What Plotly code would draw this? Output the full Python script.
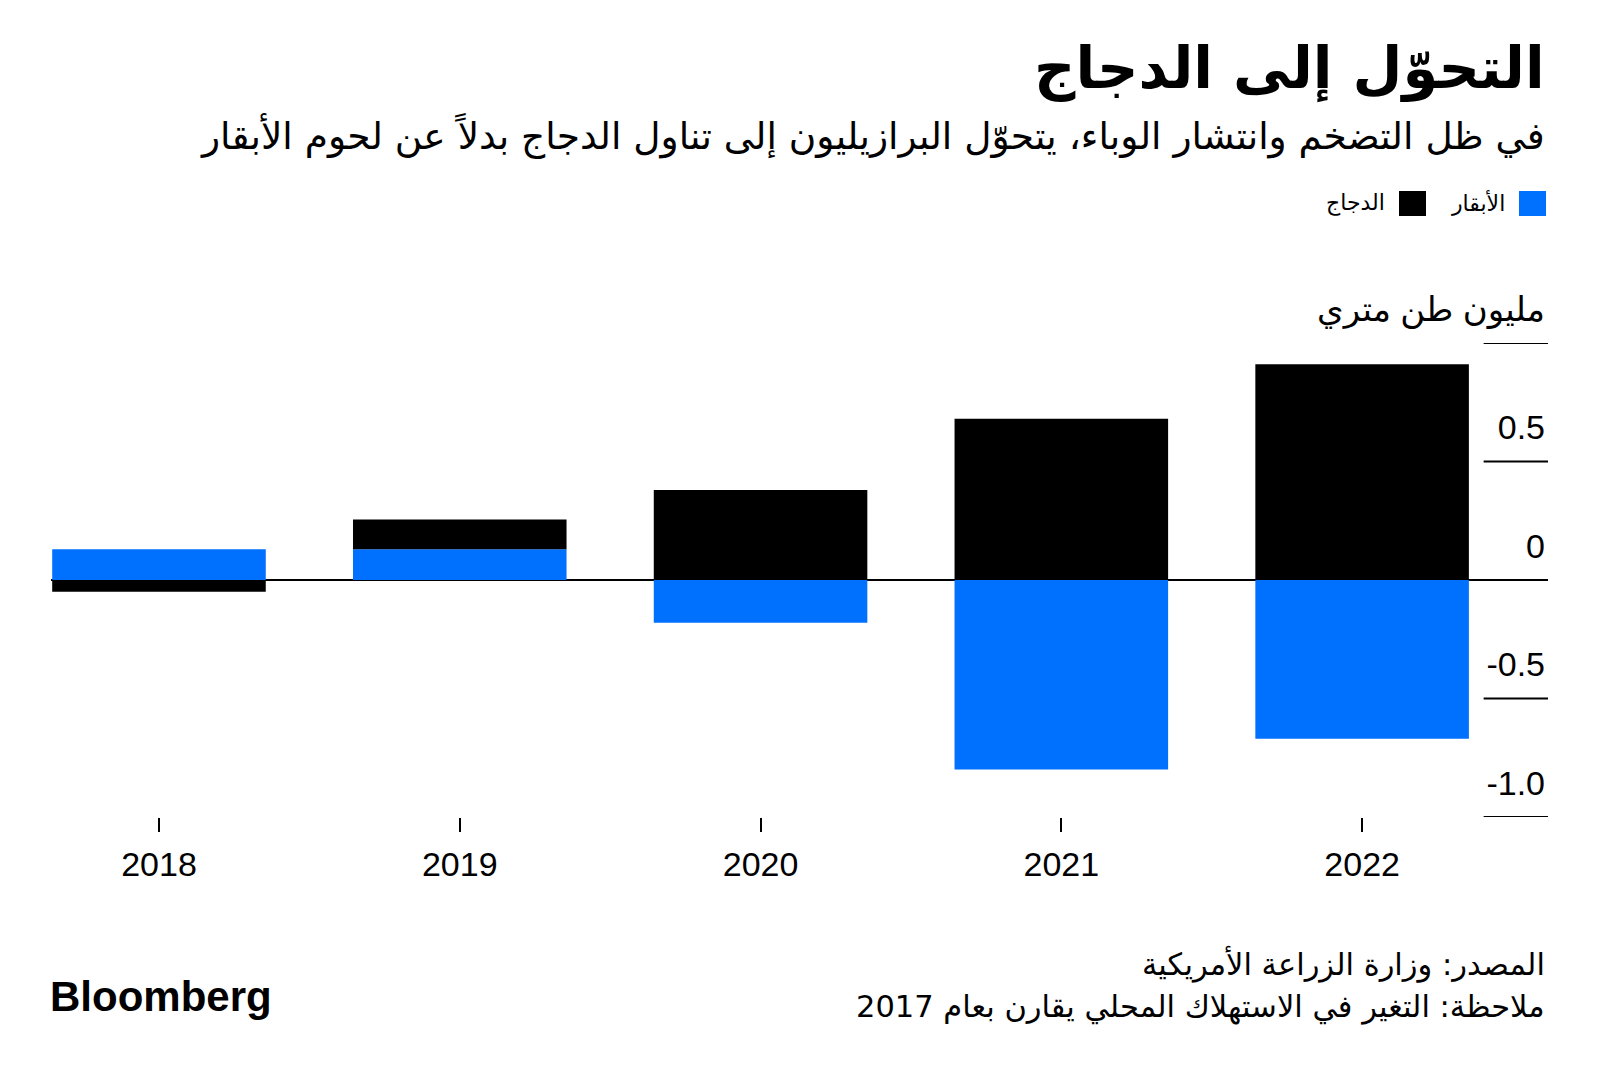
import plotly.graph_objects as go

# ---- data ----
years = ["2018", "2019", "2020", "2021", "2022"]
beef = [0.13, 0.13, -0.18, -0.80, -0.67]
chicken = [-0.05, 0.125, 0.38, 0.68, 0.91]
series_names = ["الأبقار", "الدجاج"]
series_colors = ["#0070FF", "#000000"]
y_tickvals = [-1.0, -0.5, 0, 0.5, 1.0]
y_ticktext = ["-1.0", "-0.5", "0", "0.5", "مليون طن متري"]

title = "التحوّل إلى الدجاج"
subtitle = "في ظل التضخم وانتشار الوباء، يتحوّل البرازيليون إلى تناول الدجاج بدلاً عن لحوم الأبقار"
source = "المصدر: وزارة الزراعة الأمريكية"
note = "ملاحظة: التغير في الاستهلاك المحلي يقارن بعام 2017"

AR_FONT = "DejaVu Sans, Noto Sans, sans-serif"
LAT_FONT = "Liberation Sans, Arial, DejaVu Sans, sans-serif"

fig = go.Figure()
for name, vals, col in zip(series_names, [beef, chicken], series_colors):
    fig.add_trace(go.Bar(x=years, y=vals, name=name, marker=dict(color=col, line=dict(width=0)),
                         showlegend=False))

W, H = 1600, 1074
OFF = 8  # page body margin
L, R, T, B = 43, 60, 335, 265

fig.update_layout(
    width=W, height=H,
    margin=dict(l=L, r=R, t=T, b=B),
    barmode="relative",
    bargap=0.29,
    plot_bgcolor="white",
    paper_bgcolor="white",
    font=dict(family=LAT_FONT, color="#000000"),
)
fig.update_xaxes(
    type="category",
    range=[-0.359, 4.618],
    showgrid=False, showline=False, zeroline=False,
    ticks="outside", ticklen=14, tickwidth=2, tickcolor="#000000",
    ticklabelstandoff=3,
    tickfont=dict(size=34, family=LAT_FONT, color="#000000"),
)
fig.update_yaxes(
    range=[-1.0, 1.0],
    side="right",
    tickvals=y_tickvals, ticktext=y_ticktext,
    ticklabelposition="inside",
    ticklabelshift=-34,
    ticklabeloverflow="allow",
    ticks="",
    showgrid=False, showline=False,
    zeroline=True, zerolinecolor="#000000", zerolinewidth=2,
    tickfont=dict(size=34, family=LAT_FONT, color="#000000"),
)

# short gridlines at right (derived from tick values)
for v in y_tickvals:
    if v == 0:
        continue
    fig.add_shape(type="line", xref="paper", yref="y", x0=0.957, x1=1.0, y0=v, y1=v,
                  line=dict(color="#000000", width=2), layer="above")

plot_h = H - T - B
plot_w = W - L - R


def py(ypx):
    return (H - B - (ypx - OFF)) / plot_h


def px(xpx):
    return (xpx - OFF - L) / plot_w


# title / subtitle
fig.add_annotation(text="<b>" + title + "</b>", xref="paper", yref="paper", x=px(1547), y=py(69),
                   xanchor="right", yanchor="middle", showarrow=False,
                   font=dict(size=57.5, family=AR_FONT, color="#000000"))
fig.add_annotation(text=subtitle, xref="paper", yref="paper", x=px(1547), y=py(136),
                   xanchor="right", yanchor="middle", showarrow=False,
                   font=dict(size=37.5, family=AR_FONT, color="#000000"))

# legend (RTL: swatch on the right of the label)
legend_right = [1546, 1426]
for name, col, xr in zip(series_names, series_colors, legend_right):
    fig.add_shape(type="rect", xref="paper", yref="paper",
                  x0=px(xr - 27), x1=px(xr), y0=py(216), y1=py(191),
                  fillcolor=col, line=dict(width=0))
    fig.add_annotation(text=name, xref="paper", yref="paper", x=px(xr - 39), y=py(203),
                       xanchor="right", yanchor="middle", showarrow=False,
                       font=dict(size=22, family=AR_FONT, color="#000000"))

# footer
fig.add_annotation(text=source, xref="paper", yref="paper", x=px(1547), y=py(964),
                   xanchor="right", yanchor="middle", showarrow=False,
                   font=dict(size=30.5, family=AR_FONT, color="#000000"))
fig.add_annotation(text=note, xref="paper", yref="paper", x=px(1547), y=py(1007),
                   xanchor="right", yanchor="middle", showarrow=False,
                   font=dict(size=30.5, family=AR_FONT, color="#000000"))
fig.add_annotation(text="<b>Bloomberg</b>", xref="paper", yref="paper", x=px(48), y=py(996),
                   xanchor="left", yanchor="middle", showarrow=False,
                   font=dict(size=42, family=LAT_FONT, color="#000000"))

fig.write_html("out.html")
